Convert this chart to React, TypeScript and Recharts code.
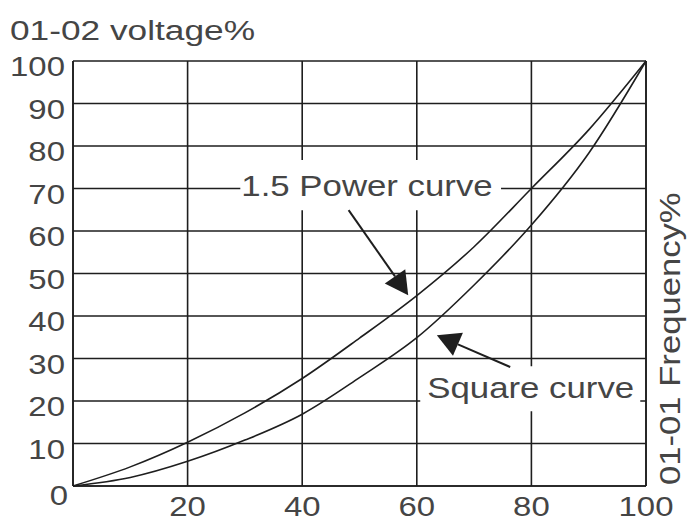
import React from 'react';
import { LineChart, Line, XAxis, YAxis, CartesianGrid, ReferenceArea, ReferenceLine, Label } from 'recharts';

const frequency = [0, 10, 20, 30, 40, 50, 60, 70, 80, 90, 100];
const powerCurve = [0, 4.5, 10.3, 17.2, 25.3, 34.8, 44.8, 56.3, 70, 83.8, 100];
const squareCurve = [0, 2.0, 5.8, 10.8, 16.9, 25.5, 34.9, 47.3, 61.4, 78.3, 100];
const xTicks = [0, 20, 40, 60, 80, 100];
const yTicks = [0, 10, 20, 30, 40, 50, 60, 70, 80, 90, 100];

const labelBoxes = [
  { text: '1.5 Power curve', x1: 29.2, x2: 74.7, y1: 64.9, y2: 76.7, dx: 1, dy: 36 },
  { text: 'Square curve', x1: 60.6, x2: 99.0, y1: 17.6, y2: 28.2, dx: 7, dy: 32 },
];
const arrows = [
  { x1: 48.1, y1: 64.9, x2: 58.5, y2: 44.9 },
  { x1: 76.3, y1: 28.0, x2: 63.5, y2: 35.5 },
];

const data = frequency.map((f, i) => ({ f, power: powerCurve[i], square: squareCurve[i] }));

const FONT = '"Liberation Sans", Arial, Helvetica, sans-serif';
const TEXT = '#454545';
const INK = '#1e1e1e';
const SX = 1.22;

const YTick = (props: any) => {
  const { x, y, payload } = props;
  const zero = payload.value === 0;
  return (
    <g transform={`translate(${x + (zero ? 3 : 0)},${y + (zero ? 19 : 15)})`}>
      <text transform={`scale(${SX},1)`} textAnchor="end" fontSize={27} fill={TEXT} fontFamily={FONT}>
        {payload.value}
      </text>
    </g>
  );
};

const XTick = (props: any) => {
  const { x, y, payload } = props;
  if (payload.value === 0) return null;
  return (
    <g transform={`translate(${x},${y + 22})`}>
      <text transform={`scale(${SX},1)`} textAnchor="middle" fontSize={27} fill={TEXT} fontFamily={FONT}>
        {payload.value}
      </text>
    </g>
  );
};

const Arrow = (props: any) => {
  const { x1, y1, x2, y2 } = props;
  if ([x1, y1, x2, y2].some((v) => typeof v !== 'number')) return null;
  const len = 23;
  const hw = 12.5;
  const dx = x2 - x1;
  const dy = y2 - y1;
  const d = Math.sqrt(dx * dx + dy * dy);
  const ux = dx / d;
  const uy = dy / d;
  const bx = x2 - ux * len;
  const by = y2 - uy * len;
  const px = -uy;
  const py = ux;
  return (
    <g>
      <line x1={x1} y1={y1} x2={bx} y2={by} stroke={INK} strokeWidth={2} />
      <polygon
        points={`${x2},${y2} ${bx + px * hw},${by + py * hw} ${bx - px * hw},${by - py * hw}`}
        fill={INK}
      />
    </g>
  );
};

const boxLabel = (text: string, dx: number, dy: number) => (p: any) => {
  const vb = p.viewBox || {};
  return (
    <g transform={`translate(${vb.x + dx},${vb.y + dy})`}>
      <text transform="scale(1.2,1)" fontSize={29} fill={TEXT} fontFamily={FONT}>
        {text}
      </text>
    </g>
  );
};

const TitleLabel = (p: any) => {
  const vb = p.viewBox || {};
  return (
    <g transform={`translate(${vb.x + 10},${vb.y - 21})`}>
      <text transform="scale(1.26,1)" fontSize={28} fill={TEXT} fontFamily={FONT}>
        01-02 voltage%
      </text>
    </g>
  );
};

const RightLabel = (p: any) => {
  const vb = p.viewBox || {};
  return (
    <g transform={`translate(${vb.x + 34},${vb.y + vb.height - 1}) rotate(-90)`}>
      <text transform="scale(1.155,1)" fontSize={30} fill={TEXT} fontFamily={FONT}>
        01-01 Frequency%
      </text>
    </g>
  );
};

export default function App() {
  return (
    <div style={{ position: 'absolute', left: 0, top: 0, width: 688, height: 521, background: '#fff' }}>
      <LineChart width={688} height={521} data={data} margin={{ top: 61, right: 0, bottom: 0, left: 0 }}>
        <CartesianGrid yAxisId="left" stroke={INK} strokeWidth={1.6} strokeDasharray="" />
        <XAxis
          dataKey="f"
          type="number"
          domain={[0, 100]}
          ticks={xTicks}
          interval={0}
          height={35}
          axisLine={{ stroke: INK, strokeWidth: 1.6 }}
          tickLine={false}
          tick={<XTick />}
        />
        <YAxis
          yAxisId="left"
          type="number"
          domain={[0, 100]}
          ticks={yTicks}
          interval={0}
          width={73}
          axisLine={{ stroke: INK, strokeWidth: 1.6 }}
          tickLine={false}
          tick={<YTick />}
        >
          <Label content={<TitleLabel />} />
        </YAxis>
        <YAxis
          yAxisId="right"
          orientation="right"
          type="number"
          domain={[0, 100]}
          ticks={yTicks}
          width={42}
          axisLine={{ stroke: INK, strokeWidth: 1.6 }}
          tickLine={false}
          tick={false}
        >
          <Label content={<RightLabel />} />
        </YAxis>
        {labelBoxes.map((b) => (
          <ReferenceArea
            key={b.text}
            yAxisId="left"
            x1={b.x1}
            x2={b.x2}
            y1={b.y1}
            y2={b.y2}
            fill="#ffffff"
            fillOpacity={1}
            stroke="none"
            ifOverflow="visible"
            label={{ content: boxLabel(b.text, b.dx, b.dy) } as any}
          />
        ))}
        <Line yAxisId="left" type="monotone" dataKey="power" stroke={INK} strokeWidth={1.6} dot={false} isAnimationActive={false} />
        <Line yAxisId="left" type="monotone" dataKey="square" stroke={INK} strokeWidth={1.6} dot={false} isAnimationActive={false} />
        {arrows.map((a, i) => (
          <ReferenceLine
            key={i}
            yAxisId="left"
            segment={[{ x: a.x1, y: a.y1 }, { x: a.x2, y: a.y2 }]}
            ifOverflow="visible"
            shape={(p: any) => <Arrow {...p} />}
          />
        ))}
      </LineChart>
    </div>
  );
}
